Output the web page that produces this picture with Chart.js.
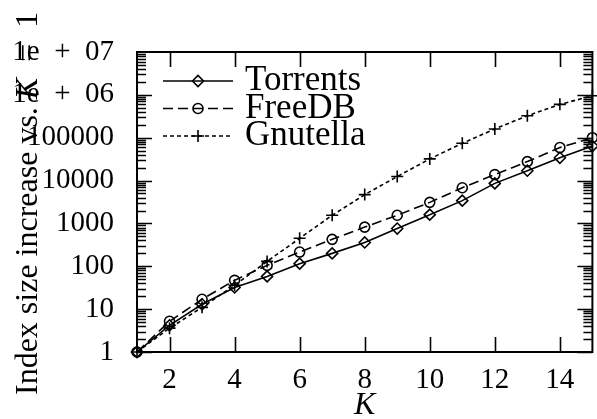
<!DOCTYPE html>
<html>
<head>
<meta charset="utf-8">
<script src="https://cdn.jsdelivr.net/npm/chart.js@4"></script>
<style>
  html, body { margin: 0; padding: 0; background: #fff; overflow: hidden; }
  #wrap { width: 600px; height: 419px; position: relative; }
</style>
</head>
<body>
<div id="wrap"><canvas id="chart"></canvas></div>
<script>
const kValues = [1, 2, 3, 4, 5, 6, 7, 8, 9, 10, 11, 12, 13, 14, 15];
const torrents = [1, 4.2, 13, 32, 58, 115, 200, 360, 760, 1600, 3400, 8600, 17000, 34000, 64000];
const freedb = [1, 5.2, 17, 47, 105, 215, 425, 820, 1550, 3100, 6800, 13800, 27700, 59000, 100000];
const gnutella = [1, 3.6, 11, 36, 130, 450, 1550, 4700, 12400, 32000, 74000, 160000, 325000, 600000, 950000];
const seriesNames = ['Torrents', 'FreeDB', 'Gnutella'];
const xTicks = [2, 4, 6, 8, 10, 12, 14];
const yTicks = [1, 10, 100, 1000, 10000, 100000, 1000000, 10000000];
const yTickLabels = ['1', '10', '100', '1000', '10000', '100000', '1e\u2002+\u200206', '1e\u2002+\u200207'];

const FONT = '"Liberation Serif", "Times New Roman", serif';
Chart.defaults.font.family = FONT;
Chart.defaults.color = '#000';

function series(name, data, dash, style, radius) {
    return {
        label: name,
        data: kValues.map((k, i) => ({ x: k, y: data[i] })),
        borderColor: '#000',
        borderWidth: 1.6,
        borderDash: dash,
        pointStyle: style,
        pointRadius: radius,
        pointBorderWidth: 1.6,
        pointBorderColor: '#000',
        pointBackgroundColor: 'rgba(0,0,0,0)',
        fill: false,
        tension: 0,
        clip: false
    };
}

// frame + inward ticks, like gnuplot
const framePlugin = {
    id: 'frame',
    beforeDatasetsDraw(chart) {
        const { ctx, chartArea: a, scales } = chart;
        ctx.save();
        ctx.strokeStyle = '#000';
        ctx.lineWidth = 1.6;
        ctx.beginPath();
        xTicks.forEach(v => {
            const px = Math.round(scales.x.getPixelForValue(v)) + 0.5;
            ctx.moveTo(px, a.bottom); ctx.lineTo(px, a.bottom - 15);
            ctx.moveTo(px, a.top); ctx.lineTo(px, a.top + 15);
        });
        for (let d = 0; d < 7; d++) {
            for (let k = 1; k <= 9; k++) {
                const v = k * Math.pow(10, d);
                const py = Math.round(scales.y.getPixelForValue(v)) + 0.5;
                const len = k === 1 ? 15 : 9;
                ctx.moveTo(a.left, py); ctx.lineTo(a.left + len, py);
                ctx.moveTo(a.right, py); ctx.lineTo(a.right - len, py);
            }
        }
        ctx.stroke();
        ctx.lineWidth = 2;
        ctx.strokeRect(a.left, a.top, a.right - a.left, a.bottom - a.top);
        ctx.restore();
    },
    afterDraw(chart) {
        const { ctx } = chart;
        ctx.save();
        // legend
        chart.data.datasets.forEach((ds, i) => {
            const ly = 81 + i * 27.5;
            ctx.strokeStyle = '#000';
            ctx.lineWidth = ds.borderWidth;
            ctx.setLineDash(ds.borderDash);
            ctx.beginPath();
            ctx.moveTo(163, ly); ctx.lineTo(233, ly);
            ctx.stroke();
            ctx.setLineDash([]);
            ctx.fillStyle = 'rgba(0,0,0,0)';
            Chart.helpers.drawPoint(ctx, {
                pointStyle: ds.pointStyle, radius: ds.pointRadius,
                borderWidth: ds.pointBorderWidth, rotation: 0
            }, 198, ly);
            ctx.fillStyle = '#000';
            ctx.font = '35px ' + FONT;
            ctx.textBaseline = 'alphabetic';
            ctx.textAlign = 'left';
            ctx.fillText(ds.label, 245, ly + 9);
        });
        ctx.fillStyle = '#000';
        // x title
        ctx.font = 'italic 32px ' + FONT;
        ctx.textAlign = 'center';
        ctx.fillText('K', chart.scales.x.getPixelForValue(8), 414);
        // y title
        ctx.translate(37, 395);
        ctx.rotate(-Math.PI / 2);
        ctx.textAlign = 'left';
        const parts = [['Index size increase vs. ', ''], ['K', 'italic '], ['\u2002=\u20021', '']];
        let x = 0;
        parts.forEach(([t, st]) => {
            ctx.font = st + '32px ' + FONT;
            ctx.fillText(t, x, 0);
            x += ctx.measureText(t).width;
        });
        ctx.restore();
    }
};

new Chart(document.getElementById('chart'), {
    type: 'line',
    data: {
        datasets: [
            series(seriesNames[0], torrents, [], 'rectRot', 5.5),
            series(seriesNames[1], freedb, [10, 5], 'circle', 5),
            series(seriesNames[2], gnutella, [4, 3], 'cross', 6)
        ]
    },
    options: {
        responsive: true,
        maintainAspectRatio: false,
        animation: false,
        layout: { padding: { left: 0, top: 52, right: 1, bottom: 0 } },
        plugins: { legend: { display: false }, tooltip: { enabled: false } },
        scales: {
            x: {
                type: 'linear', min: 1, max: 15,
                grid: { display: false }, border: { display: false },
                afterBuildTicks: s => { s.ticks = xTicks.map(v => ({ value: v })); },
                afterFit: s => { s.height = 67; },
                ticks: { font: { size: 29 }, padding: 3, maxRotation: 0 }
            },
            y: {
                type: 'logarithmic', min: 1, max: 1e7,
                grid: { display: false }, border: { display: false },
                afterBuildTicks: s => { s.ticks = yTicks.map(v => ({ value: v })); },
                afterFit: s => { s.width = 137; },
                ticks: {
                    font: { size: 29 }, padding: 15,
                    callback: v => yTickLabels[yTicks.indexOf(v)]
                }
            }
        }
    },
    plugins: [framePlugin]
});
</script>
</body>
</html>
